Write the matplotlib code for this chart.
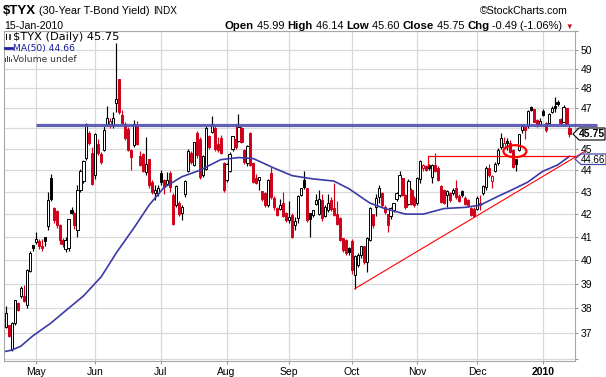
import numpy as np
import matplotlib
matplotlib.use("Agg")
import matplotlib.pyplot as plt
from matplotlib.patches import Ellipse, Polygon, Rectangle
from matplotlib.transforms import ScaledTranslation
from matplotlib.offsetbox import TextArea, HPacker, AnchoredOffsetbox

plt.rcParams['font.family'] = ['Liberation Sans', 'DejaVu Sans']
plt.rcParams['text.parse_math'] = False

# daily candles, 17-Apr-2009 .. 15-Jan-2010 (trading days)
opens = [37.27, 37.3, 36.4, 37.4, 38.2, 38.5, 38.45, 38.15, 39.55, 40.6,
         40.78, 40.77, 40.58, 40.95, 41.45, 43.6, 42.25, 42.1, 41.5, 40.85,
         40.45, 40.5, 42.17, 42.03, 41.3, 43.08, 43.5, 44.56, 45.76, 44.8,
         43.77, 45.2, 44.72, 44.95, 46.2, 46.2, 46.17, 47.26, 48.43, 46.65,
         46.17, 45.95, 44.95, 45.2, 46.1, 44.63, 44.72, 43.9, 44.48, 43.45,
         42.93, 42.95, 43.86, 43.54, 43.35, 43.85, 42.85, 42.4, 42.46, 42.05,
         42.9, 43.96, 44.8, 44.25, 45.76, 45.44, 43.77, 44.08, 45.6, 45.83,
         46.0, 45.2, 45.5, 44.33, 43.54, 43.96, 45.0, 45.44, 45.4, 46.0,
         44.95, 44.33, 45.76, 44.33, 43.6, 43.54, 43.0, 42.93, 42.4, 43.85,
         42.7, 42.25, 42.25, 42.46, 42.03, 41.75, 41.95, 41.5, 41.82, 42.85,
         43.54, 43.15, 42.0, 41.95, 42.46, 42.0, 42.62, 41.9, 42.17, 42.62,
         42.25, 41.96, 41.8, 40.9, 40.84, 40.5, 40.8, 39.35, 39.77, 40.2,
         40.55, 39.9, 40.84, 41.96, 42.3, 42.77, 42.9, 42.3, 41.96, 41.9,
         42.17, 42.7, 42.85, 43.6, 42.85, 42.46, 43.08, 42.7, 42.5, 43.6,
         44.1, 44.17, 44.2, 43.7, 44.2, 44.1, 43.23, 43.08, 42.85, 42.93,
         42.95, 43.15, 42.8, 43.0, 42.7, 42.62, 42.25, 42.2, 42.25, 42.4,
         42.93, 43.23, 44.09, 43.5, 43.96, 44.33, 45.12, 45.1, 45.38, 45.28,
         44.95, 44.48, 44.95, 45.92, 46.05, 46.1, 47.05, 46.91, 46.4, 46.2,
         46.82, 46.25, 46.25, 46.82, 47.1, 47.3, 46.45, 46.33, 46.98, 45.99]
highs = [38.1, 37.35, 37.45, 38.35, 38.25, 38.9, 38.95, 39.6, 40.4, 40.65,
         41.2, 40.9, 40.9, 41.0, 43.0, 43.85, 42.3, 42.2, 41.55, 40.95,
         41.0, 41.8, 42.3, 42.1, 43.3, 44.05, 44.5, 46.25, 45.9, 45.1,
         45.8, 45.5, 44.85, 46.1, 47.1, 46.5, 46.8, 50.35, 48.5, 46.9,
         46.3, 46.05, 45.0, 46.4, 46.35, 44.9, 44.8, 45.6, 44.55, 43.55,
         43.3, 43.3, 44.0, 43.6, 43.9, 43.95, 42.95, 43.3, 42.6, 42.4,
         43.55, 45.0, 44.9, 45.35, 45.9, 45.6, 44.7, 46.1, 45.7, 46.6,
         46.1, 45.6, 45.7, 44.4, 44.35, 44.85, 45.65, 46.2, 46.7, 46.1,
         45.0, 45.2, 45.85, 44.4, 43.85, 43.7, 43.05, 43.0, 43.6, 44.15,
         42.8, 42.3, 42.7, 43.0, 42.1, 42.6, 42.05, 41.85, 42.85, 43.2,
         43.96, 43.2, 42.05, 42.2, 42.9, 43.1, 42.9, 42.4, 42.9, 42.75,
         43.4, 42.6, 41.85, 40.95, 40.9, 40.55, 40.9, 40.2, 40.3, 40.6,
         40.6, 41.0, 42.3, 42.0, 42.9, 43.3, 43.0, 42.4, 42.0, 42.3,
         42.5, 43.0, 43.95, 43.65, 42.9, 43.6, 43.2, 42.8, 43.7, 44.5,
         44.3, 44.25, 44.3, 44.3, 44.8, 44.2, 43.3, 43.15, 43.1, 43.0,
         43.2, 43.55, 42.9, 43.1, 42.8, 42.7, 42.3, 42.3, 42.8, 42.85,
         43.3, 44.2, 44.3, 43.8, 44.4, 45.05, 45.77, 45.6, 45.55, 45.45,
         45.0, 44.55, 45.75, 46.2, 46.1, 46.9, 47.1, 46.95, 46.45, 46.5,
         46.95, 46.3, 46.75, 47.1, 47.55, 47.4, 46.5, 47.15, 47.0, 46.14]
lows = [37.2, 36.85, 36.3, 37.35, 37.9, 38.4, 38.25, 38.0, 39.5, 40.4,
        40.7, 40.45, 40.4, 40.6, 41.28, 42.6, 41.6, 41.4, 40.7, 40.55,
        40.35, 40.4, 42.0, 41.35, 41.0, 43.0, 43.4, 44.48, 45.2, 43.3,
        43.6, 44.7, 44.3, 44.9, 46.1, 46.0, 46.0, 46.8, 46.7, 46.2,
        45.45, 44.9, 44.0, 45.1, 45.2, 44.2, 43.9, 43.77, 43.2, 42.9,
        42.62, 42.8, 43.3, 42.9, 43.3, 43.0, 41.5, 42.3, 41.9, 41.72,
        42.75, 43.9, 44.3, 44.2, 44.6, 43.6, 43.7, 44.0, 45.0, 45.76,
        44.9, 44.85, 44.75, 43.0, 43.45, 43.9, 44.9, 45.0, 45.35, 45.3,
        44.3, 44.2, 44.2, 43.4, 43.35, 43.1, 42.6, 42.3, 42.3, 42.7,
        42.2, 41.9, 42.2, 41.85, 41.65, 41.6, 40.95, 41.3, 41.6, 42.8,
        43.15, 41.65, 41.0, 41.85, 42.4, 41.95, 41.7, 41.85, 42.1, 42.15,
        41.9, 41.5, 40.8, 40.35, 40.2, 40.2, 39.4, 38.8, 39.7, 40.1,
        39.85, 39.5, 40.8, 41.4, 41.9, 42.5, 42.3, 42.0, 41.2, 41.8,
        42.1, 42.6, 42.75, 42.8, 42.25, 42.4, 42.4, 42.3, 42.4, 43.4,
        43.95, 43.95, 44.0, 43.4, 43.9, 43.5, 42.5, 42.45, 42.3, 42.55,
        42.85, 42.7, 42.55, 42.75, 42.4, 42.3, 41.9, 41.85, 42.2, 42.2,
        42.85, 43.1, 43.7, 43.2, 43.9, 44.25, 45.0, 45.0, 44.95, 44.8,
        44.1, 43.96, 44.9, 45.8, 45.5, 46.0, 46.85, 46.3, 46.05, 46.15,
        46.6, 45.85, 46.2, 46.75, 46.82, 47.1, 46.2, 46.3, 46.2, 45.60]
closes = [37.8, 36.9, 37.4, 38.3, 37.95, 38.8, 38.3, 39.55, 40.27, 40.5,
          40.88, 40.62, 40.5, 40.82, 42.62, 42.7, 41.72, 41.5, 40.85, 40.7,
          40.84, 41.76, 42.05, 41.5, 43.08, 43.96, 44.4, 46.17, 45.28, 43.38,
          45.68, 44.8, 44.4, 45.92, 46.5, 46.35, 46.48, 47.45, 46.8, 46.25,
          45.52, 44.95, 44.63, 46.17, 45.25, 44.25, 43.96, 44.25, 43.31, 43.0,
          43.08, 43.15, 43.46, 43.23, 43.5, 43.23, 41.57, 43.23, 42.0, 42.3,
          43.46, 44.9, 44.4, 45.3, 44.72, 43.7, 44.63, 46.0, 45.12, 46.17,
          45.0, 44.95, 44.8, 43.08, 44.25, 44.72, 45.6, 45.12, 46.04, 45.33,
          44.4, 45.1, 44.25, 43.46, 43.42, 43.65, 42.7, 42.4, 43.54, 42.77,
          42.3, 41.96, 42.4, 41.9, 41.72, 41.85, 41.0, 41.65, 42.77, 43.15,
          43.23, 41.72, 41.8, 42.15, 42.62, 42.65, 41.82, 42.3, 42.46, 42.25,
          41.96, 41.57, 40.84, 40.41, 40.3, 40.35, 39.56, 40.12, 40.2, 40.55,
          39.9, 40.9, 42.25, 41.5, 42.7, 43.15, 42.4, 42.1, 41.5, 42.25,
          42.46, 42.93, 43.77, 42.85, 42.3, 43.46, 42.46, 42.4, 43.6, 44.4,
          44.2, 44.0, 44.1, 44.2, 43.96, 43.55, 42.55, 42.5, 43.0, 42.62,
          43.08, 42.77, 42.6, 42.85, 42.46, 42.4, 41.96, 41.93, 42.7, 42.46,
          43.23, 44.09, 43.77, 43.7, 44.25, 44.95, 45.52, 45.25, 45.3, 44.87,
          44.17, 44.3, 45.68, 46.08, 45.92, 46.82, 46.91, 46.33, 46.2, 46.33,
          46.68, 45.92, 46.68, 47.0, 47.02, 47.2, 46.25, 47.05, 46.24, 45.75]

# 50-day moving average (trading-day index, value)
ma_days = [0, 2, 5, 9, 15, 20, 26, 32, 37, 43, 48, 53, 59, 65, 72, 78, 83, 90,
           96, 103, 110, 115, 122, 127, 134, 140, 147, 154, 159, 165, 169,
           175, 180, 185, 189]
ma_vals = [36.3, 36.35, 36.5, 36.9, 37.4, 37.9, 38.5, 39.3, 40.3, 41.4, 42.4,
           43.2, 43.7, 44.0, 44.5, 44.6, 44.55, 44.1, 43.75, 43.6, 43.5, 43.15,
           42.5, 42.25, 42.0, 42.0, 42.25, 42.3, 42.4, 42.8, 43.05, 43.45,
           43.95, 44.25, 44.66]

month_labels = ['May', 'Jun', 'Jul', 'Aug', 'Sep', 'Oct', 'Nov', 'Dec', '2010']
month_start = [10, 30, 52, 74, 95, 116, 138, 158, 180]

resist_level = 46.15
trend_from = (117, 38.8)
trend_to = (194.2, 44.9)
bracket_level = 44.67

RED = '#d0021b'
GRID = '#d9d9d9'

W, H = 606, 377
fig = plt.figure(figsize=(W / 100, H / 100), dpi=100)
ax = fig.add_axes([4 / W, 16 / H, 571 / W, 330 / H])


def px(x, y):
    return (x / W, 1 - y / H)


o = np.array(opens); h = np.array(highs); l = np.array(lows); c = np.array(closes)
x = np.arange(len(c))
prev = np.r_[c[0] - 1, c[:-1]]
col = np.where(c >= prev, 'black', RED)
hollow = c > o
face = np.where(hollow, 'white', col)
lo_b = np.minimum(o, c)
hi_b = np.maximum(o, c)

ax.set_yscale('log')
ax.vlines(x, l, h, colors=col, lw=0.85, zorder=3)
ax.bar(x, hi_b - lo_b + 0.03, bottom=lo_b, width=0.72, color=face,
       edgecolor=col, linewidth=0.7, zorder=4)

ax.plot(ma_days, ma_vals, color='#3a3aa6', lw=1.2, zorder=5)

# drawn annotations
ax.plot([month_start[0], 198.2], [resist_level, resist_level], color='#5050b0',
        lw=2.3, alpha=0.9, zorder=6, clip_on=False, solid_capstyle='butt')
ax.plot([trend_from[0], trend_to[0]], [trend_from[1], trend_to[1]], color='red',
        lw=0.8, zorder=6, clip_on=False)
ax.plot([141.6, 141.6, 191.0], [44.2, bracket_level, bracket_level], color='red',
        lw=0.9, zorder=6, clip_on=False)
etr = fig.dpi_scale_trans + ScaledTranslation(170.7, 44.9, ax.transData)
ax.add_patch(Ellipse((0, 0), 0.23, 0.12, transform=etr, fill=False,
                     edgecolor='red', lw=1.6, zorder=7))

ax.set_xlim(-0.64, 190.85)
ax.set_ylim(35.93, 51.02)

yt = list(range(36, 52))
ax.set_yticks(yt)
ax.set_yticklabels([str(v) if 37 <= v <= 50 and v != 46 else '' for v in yt])
ax.minorticks_off()
ax.yaxis.tick_right()
ax.tick_params(axis='y', length=2, pad=2, labelsize=7.5, color='#999999')
ax.set_xticks(month_start)
ax.set_xticklabels(month_labels)
ax.tick_params(axis='x', length=2, pad=2, labelsize=7.5, color='#999999')
ax.get_xticklabels()[-1].set_fontweight('bold')
ax.grid(True, color=GRID, lw=0.9, zorder=0)
ax.set_axisbelow(True)
for s in ax.spines.values():
    s.set_color('#a8a8a8')
    s.set_linewidth(0.8)
ax.spines['bottom'].set_linestyle((0, (1, 1)))

# legend inside plot
fig.add_artist(Rectangle(px(6, 40), 1.2 / W, 6 / H, transform=fig.transFigure,
                         facecolor='black'))
fig.add_artist(Rectangle(px(9, 39), 1.2 / W, 5 / H, transform=fig.transFigure,
                         facecolor='white', edgecolor='black', lw=0.5))
fig.text(*px(13, 37), '$TYX (Daily) 45.75', family='DejaVu Sans', size=8.2,
         va='center', ha='left')
fig.add_artist(plt.Line2D([5 / W, 12 / W], [1 - 48 / H, 1 - 48 / H],
                          transform=fig.transFigure, color='#2020a0', lw=2))
fig.text(*px(13, 48), 'MA(50) 44.66', family='DejaVu Sans', size=6.6,
         va='center', ha='left', color='#1a1a9a')
for bx, bh in [(5, 4), (7, 6), (9, 5), (11, 3)]:
    fig.add_artist(Rectangle(px(bx, 62), 1.2 / W, bh / H, transform=fig.transFigure,
                             facecolor='#444444'))
fig.text(*px(13, 59), 'Volume undef', family='DejaVu Sans', size=6.6,
         va='center', ha='left', color='#333333')


# header
def token_row(tokens, loc, anchor):
    kids = [TextArea(t, textprops=dict(size=s, fontweight=w, color=cl))
            for t, s, w, cl in tokens]
    row = HPacker(children=kids, align='baseline', pad=0, sep=0)
    box = AnchoredOffsetbox(loc=loc, child=row, frameon=False, pad=0, borderpad=0,
                            bbox_to_anchor=anchor, bbox_transform=fig.transFigure)
    fig.add_artist(box)


token_row([('$TYX', 9.5, 'bold', 'black'),
           (' (30-Year T-Bond Yield) ', 7.9, 'normal', 'black'),
           ('INDX', 7.2, 'normal', 'black')], 'center left', px(3, 11))
fig.text(*px(568, 11), '\u00a9StockCharts.com', size=7.6, ha='right', va='center')
fig.text(*px(4, 26), '15-Jan-2010', size=7.6, ha='left', va='center')
token_row([('Open', 8.2, 'bold', 'black'), (' 45.99 ', 7.9, 'normal', 'black'),
           ('High', 8.2, 'bold', 'black'), (' 46.14 ', 7.9, 'normal', 'black'),
           ('Low', 8.2, 'bold', 'black'), (' 45.60 ', 7.9, 'normal', 'black'),
           ('Close', 8.2, 'bold', 'black'), (' 45.75 ', 7.9, 'normal', 'black'),
           ('Chg', 8.2, 'bold', 'black'), (' -0.49 (-1.06%) ', 7.9, 'normal', 'black'),
           ('\u25bc', 5.5, 'normal', RED)], 'center right', px(573, 26))

# price tags on the right
fig.add_artist(Polygon([px(573, 134), px(579, 128), px(605, 128), px(605, 140), px(579, 140)],
                       closed=True, transform=fig.transFigure, facecolor='white',
                       edgecolor='black', lw=0.8))
fig.text(*px(592, 134), '45.75', size=7.5, weight='bold', ha='center', va='center')
fig.add_artist(Polygon([px(575, 159), px(581, 154), px(606, 154), px(606, 164.5), px(581, 164.5)],
                       closed=True, transform=fig.transFigure, facecolor='white',
                       edgecolor='#4848b0', lw=0.9))
fig.text(*px(593, 159.6), '44.66', size=7.0, ha='center', va='center')

fig.savefig('out.png', dpi=100)
